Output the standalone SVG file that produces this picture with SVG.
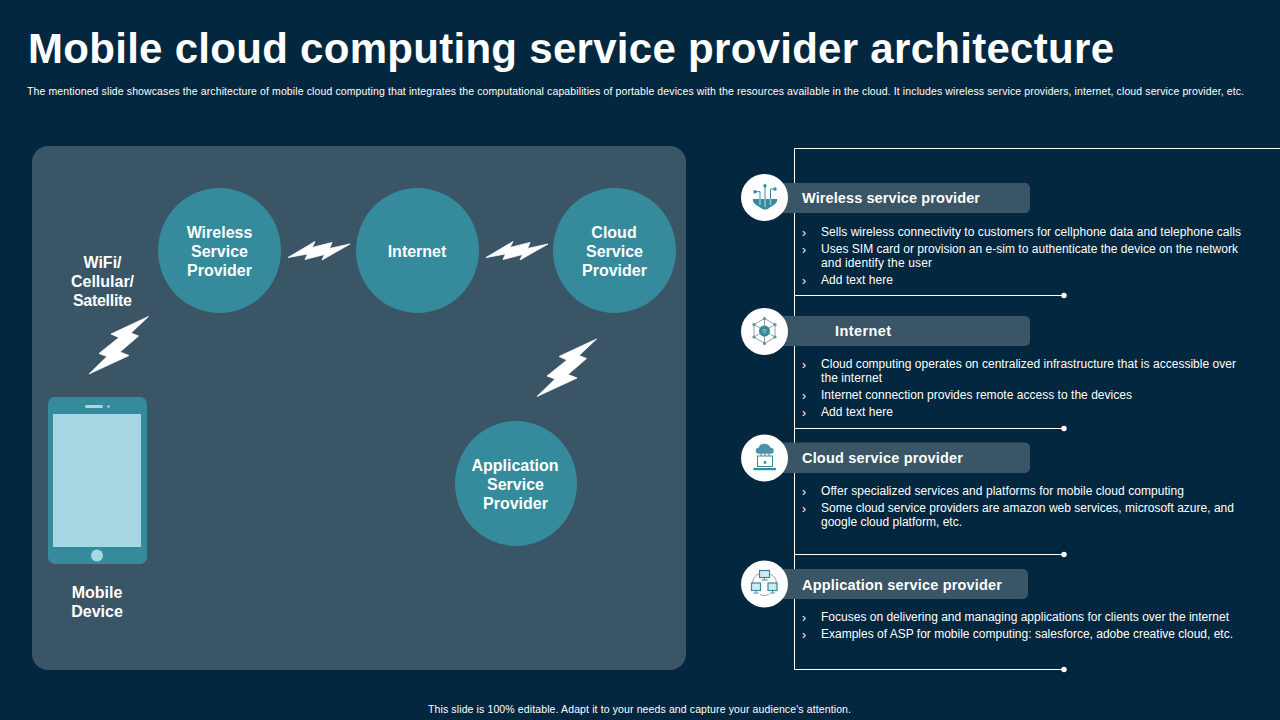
<svg xmlns="http://www.w3.org/2000/svg" xmlns:xlink="http://www.w3.org/1999/xlink" width="1280" height="720" viewBox="0 0 1280 720">
<style>
text{font-family:"Liberation Sans",Arial,sans-serif;fill:#fff}
.title{font-weight:700;font-size:42px}
.small{font-size:10.5px}
.node{font-weight:700;font-size:16px;text-anchor:middle}
.head{font-weight:700;font-size:14.5px}
.b{font-size:12px}
.ch{font-size:12px}
.disc{fill:#358a9c}
.bar{fill:#3a5566}
.wc{fill:#fff}
.ln{stroke:#fff;stroke-width:1;fill:none}
.ic{fill:#358a9c}
.is{stroke:#6f8d99;stroke-width:.8;fill:none}
.mon{fill:#d5e8ed;stroke:#358a9c;stroke-width:1.2}
.st{stroke:#358a9c;stroke-width:1;fill:none}
</style>
<defs>
<polygon id="bv" points="148.500,316.500 111,334 119,337.500 99,353.500 107,356.500 89,374 129,355.500 120,352 138.500,336 131,333" fill="#fff" stroke="#fff" stroke-width="0.800" stroke-linejoin="miter"/>
<polygon id="bh" points="288,257.500 315,241.500 312,247.500 332,242.500 329.500,248.500 350,244 322,260 324.500,254.500 305,259.500 307.500,254" fill="#fff" stroke="#fff" stroke-width="0.800"/>
</defs>
<rect width="1280" height="720" fill="#02273e"/>
<text class="title" x="28" y="63" textLength="1086">Mobile cloud computing service provider architecture</text>
<text class="small" x="27" y="95" textLength="1217">The mentioned slide showcases the architecture of mobile cloud computing that integrates the computational capabilities of portable devices with the resources available in the cloud. It includes wireless service providers, internet, cloud service provider, etc.</text>
<rect id="panel" x="32" y="146" width="654" height="524" rx="16" fill="#3a5566"/>
<g id="bolts">
<use xlink:href="#bv"/>
<use xlink:href="#bv" transform="translate(448,22.5)"/>
<use xlink:href="#bh"/>
<use xlink:href="#bh" transform="translate(198,0)"/>
</g>
<g id="node-wireless"><ellipse class="disc" cx="219.500" cy="250.500" rx="61.500" ry="62.500"/><text class="node" x="219.500" y="238">Wireless</text><text class="node" x="219.500" y="257">Service</text><text class="node" x="219.500" y="276">Provider</text></g>
<g id="node-internet"><ellipse class="disc" cx="417.500" cy="250.500" rx="61.500" ry="62.500"/><text class="node" x="417" y="257">Internet</text></g>
<g id="node-cloud"><ellipse class="disc" cx="614.500" cy="250.500" rx="61.500" ry="62.500"/><text class="node" x="614" y="238">Cloud</text><text class="node" x="614.500" y="257">Service</text><text class="node" x="614.500" y="276">Provider</text></g>
<g id="node-application"><ellipse class="disc" cx="516" cy="483.500" rx="61" ry="62.500"/><text class="node" x="515" y="471">Application</text><text class="node" x="515.500" y="490">Service</text><text class="node" x="515.500" y="509">Provider</text></g>
<g id="label-link"><text class="node" x="102.500" y="268">WiFi/</text><text class="node" x="102.500" y="287">Cellular/</text><text class="node" x="102.500" y="306" textLength="59">Satellite</text></g>
<g id="node-mobile">
<rect x="48" y="397" width="99" height="167" rx="7" fill="#358a9c"/>
<rect x="53" y="414" width="88" height="133" fill="#a6d7e3"/>
<rect x="85" y="405" width="18" height="3" rx="1.500" fill="#a6d7e3"/>
<circle cx="108.500" cy="406.500" r="1.300" fill="#a6d7e3"/>
<circle cx="97" cy="555.500" r="6" fill="#a6d7e3"/>
<text class="node" x="97" y="598">Mobile</text><text class="node" x="97" y="617">Device</text>
</g>
<g id="connectors">
<path class="ln" d="M1280 148.500H794.500V669.500H1064M795 295.500H1064M795 428.500H1064M795 554.500H1064"/>
<circle class="wc" cx="1064" cy="295.500" r="2.700"/><circle class="wc" cx="1064" cy="428.500" r="2.700"/><circle class="wc" cx="1064" cy="554.500" r="2.700"/><circle class="wc" cx="1064" cy="669.500" r="2.700"/>
</g>
<g id="item-wireless">
<rect class="bar" x="770" y="183" width="260" height="30" rx="5"/>
<circle class="wc" cx="764.500" cy="197.500" r="23.500"/>
<path class="st" d="M755 191.700H760V200M765 185.700V200M775 189H770.500V200"/>
<circle class="ic" cx="755" cy="191.700" r="1.700"/><circle class="ic" cx="765" cy="185.700" r="1.700"/><circle class="ic" cx="775" cy="189" r="1.700"/>
<path class="ic" d="M753 199H777C778 204 772 206 769 208C767 210 763 210 761 208C758 206 752 204 753 199Z"/>
<path d="M760 199V205M765 199V207M770.500 199V205" stroke="#8fc6d3" stroke-width="1.500" fill="none"/>
<text class="head" x="802" y="203" textLength="178">Wireless service provider</text>
<text class="ch" x="802" y="237">›</text><text class="b" x="821" y="236" textLength="420">Sells wireless connectivity to customers for cellphone data and telephone calls</text>
<text class="ch" x="802" y="254">›</text><text class="b" x="821" y="253" textLength="417">Uses SIM card or provision an e-sim to authenticate the device on the network</text>
<text class="b" x="821" y="267" textLength="111">and identify the user</text>
<text class="ch" x="802" y="285">›</text><text class="b" x="821" y="284" textLength="72">Add text here</text>
</g>
<g id="item-internet">
<rect class="bar" x="770" y="316" width="260" height="30" rx="5"/>
<circle class="wc" cx="764.500" cy="331.500" r="23.500"/>
<polygon class="is" points="764.500,318.500 775,324.500 775,337 764.500,343.500 754,337 754,324.500"/>
<path class="is" d="M764.500 318.500V343.500M754 324.500L775 337M775 324.500L754 337"/>
<circle class="ic" cx="764.500" cy="331" r="5.500"/>
<path d="M762 330.500Q764.500 328.500 767 330.500M763 332.500Q764.500 331.500 766 332.500" stroke="#d5e8ed" stroke-width=".7" fill="none"/>
<g fill="#6f8d99"><circle cx="764.500" cy="318.500" r="1.600"/><circle cx="775" cy="324.500" r="1.600"/><circle cx="775" cy="337" r="1.600"/><circle cx="764.500" cy="343.500" r="1.600"/><circle cx="754" cy="337" r="1.600"/><circle cx="754" cy="324.500" r="1.600"/></g>
<text class="head" x="835" y="336" textLength="56">Internet</text>
<text class="ch" x="802" y="369">›</text><text class="b" x="821" y="368" textLength="415">Cloud computing operates on centralized infrastructure that is accessible over</text>
<text class="b" x="821" y="382" textLength="61">the internet</text>
<text class="ch" x="802" y="400">›</text><text class="b" x="821" y="399" textLength="311">Internet connection provides remote access to the devices</text>
<text class="ch" x="802" y="417">›</text><text class="b" x="821" y="416" textLength="72">Add text here</text>
</g>
<g id="item-cloud">
<rect class="bar" x="770" y="442.500" width="260" height="30.500" rx="5"/>
<circle class="wc" cx="764.500" cy="458" r="23.500"/>
<path d="M759 453.700A3 3 0 0 1 758.500 447.700A6.500 6.500 0 0 1 770.500 447.700A3 3 0 0 1 771 453.700Z" fill="#4a93a8"/>
<path class="st" d="M761 453.700V456M765 453.700V456M769 453.700V456"/>
<rect x="757.500" y="456" width="15" height="10.500" fill="none" stroke="#358a9c" stroke-width="1"/>
<rect class="ic" x="753.500" y="468" width="22.500" height="2.200"/>
<circle class="ic" cx="765" cy="462.500" r="1.400"/>
<text class="head" x="802" y="463" textLength="161">Cloud service provider</text>
<text class="ch" x="802" y="496">›</text><text class="b" x="821" y="495" textLength="363">Offer specialized services and platforms for mobile cloud computing</text>
<text class="ch" x="802" y="513">›</text><text class="b" x="821" y="512" textLength="413">Some cloud service providers are amazon web services, microsoft azure, and</text>
<text class="b" x="821" y="526" textLength="141">google cloud platform, etc.</text>
</g>
<g id="item-application">
<rect class="bar" x="770" y="569" width="258" height="30" rx="5"/>
<circle class="wc" cx="764.500" cy="584" r="23.500"/>
<path class="is" d="M759 574Q753 576 752.500 583M769.500 574Q776 576 776.500 583M760 594.500Q764 597 769 594.500"/>
<rect class="mon" x="759.500" y="570.500" width="10" height="7"/><rect class="mon" x="751.500" y="583" width="9" height="7.500"/><rect class="mon" x="768" y="583" width="9" height="7.500"/>
<path class="st" d="M764.500 577.500V579.500M761.500 580H767.500M756 590.500V592.500M753.500 593H758.500M772.500 590.500V592.500M770 593H775"/>
<text class="head" x="802" y="590" textLength="200">Application service provider</text>
<text class="ch" x="802" y="622">›</text><text class="b" x="821" y="621" textLength="408">Focuses on delivering and managing applications for clients over the internet</text>
<text class="ch" x="802" y="639">›</text><text class="b" x="821" y="638" textLength="412">Examples of ASP for mobile computing: salesforce, adobe creative cloud, etc.</text>
</g>
<text class="small" x="428" y="713" textLength="423">This slide is 100% editable. Adapt it to your needs and capture your audience's attention.</text>
</svg>
